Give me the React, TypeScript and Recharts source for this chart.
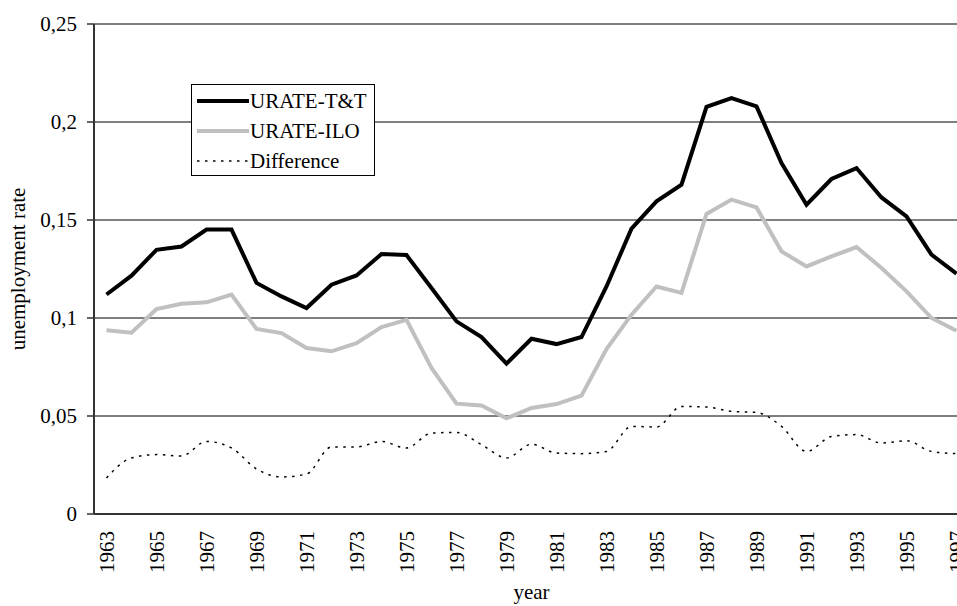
import { LineChart, Line, XAxis, YAxis, CartesianGrid, Legend } from "recharts";

const FONT = '"Liberation Serif", "Times New Roman", serif';

const YEARS = [
  1963, 1964, 1965, 1966, 1967, 1968, 1969, 1970, 1971, 1972, 1973, 1974,
  1975, 1976, 1977, 1978, 1979, 1980, 1981, 1982, 1983, 1984, 1985, 1986,
  1987, 1988, 1989, 1990, 1991, 1992, 1993, 1994, 1995, 1996, 1997,
];

const URATE_TT = [
  0.112, 0.1216, 0.1348, 0.1365, 0.1451, 0.1451, 0.1179, 0.111, 0.1051, 0.117,
  0.1217, 0.1326, 0.1321, 0.1153, 0.0983, 0.0903, 0.0767, 0.0894, 0.0867,
  0.0903, 0.1161, 0.1456, 0.1595, 0.168, 0.2077, 0.2122, 0.208, 0.1791, 0.1578,
  0.1709, 0.1765, 0.1615, 0.1518, 0.1323, 0.1226,
];

const URATE_ILO = [
  0.0937, 0.0925, 0.1046, 0.1073, 0.108, 0.1119, 0.0944, 0.0923, 0.0847, 0.083,
  0.0872, 0.0954, 0.0991, 0.0745, 0.0563, 0.0554, 0.0488, 0.0541, 0.0561,
  0.0604, 0.0842, 0.1017, 0.1161, 0.1128, 0.1531, 0.1604, 0.1564, 0.134, 0.1263,
  0.1314, 0.1362, 0.1255, 0.1136, 0.1, 0.0935,
];

const DIFFERENCE = [
  0.0184, 0.0286, 0.0303, 0.0296, 0.037, 0.0337, 0.023, 0.0189, 0.0204, 0.0342,
  0.0342, 0.037, 0.0337, 0.0413, 0.0416, 0.0354, 0.0286, 0.0356, 0.0311,
  0.0308, 0.0319, 0.0447, 0.0444, 0.0549, 0.0546, 0.0524, 0.0518, 0.0447,
  0.0319, 0.0396, 0.0405, 0.0362, 0.0374, 0.0319, 0.0308,
];

const Y_TICKS = [0, 0.05, 0.1, 0.15, 0.2, 0.25];
const YEAR_LABELS = YEARS.filter((y) => y % 2 === 1);
// tick marks sit between the years, like a category axis
const BOUNDARIES = [...YEARS.map((y) => y - 0.5), YEARS[YEARS.length - 1] + 0.5];
const DOMAIN = [BOUNDARIES[0], BOUNDARIES[BOUNDARIES.length - 1]];

const SERIES = [
  { key: "tt", name: "URATE-T&T", color: "#000", width: 4, dash: undefined, type: "linear" },
  { key: "ilo", name: "URATE-ILO", color: "#c0c0c0", width: 4, dash: undefined, type: "linear" },
  { key: "diff", name: "Difference", color: "#000", width: 1.5, dash: "2.5 5.5", type: "monotone" },
] as const;

const data = YEARS.map((year, i) => ({
  year,
  tt: URATE_TT[i],
  ilo: URATE_ILO[i],
  diff: DIFFERENCE[i],
}));

function YearTick({ x, y, payload }: any) {
  return (
    <text
      transform={`translate(${x + 7},${y + 17}) rotate(-90)`}
      textAnchor="end"
      fontFamily={FONT}
      fontSize={21}
      fill="#000"
    >
      {payload.value}
    </text>
  );
}

function LegendBox() {
  return (
    <div
      style={{
        boxSizing: "border-box",
        width: 184,
        height: 92,
        border: "1px solid #000",
        background: "#fff",
        paddingTop: 1,
        paddingLeft: 5,
        fontFamily: FONT,
        fontSize: 21,
        color: "#000",
      }}
    >
      {SERIES.map((s) => (
        <div key={s.key} style={{ display: "flex", alignItems: "center", height: 30 }}>
          <svg width={53} height={30} style={{ flex: "none" }}>
            <line
              x1={0}
              x2={52}
              y1={15}
              y2={15}
              stroke={s.color}
              strokeWidth={s.width}
              strokeDasharray={s.dash}
            />
          </svg>
          <span style={{ lineHeight: "30px" }}>{s.name}</span>
        </div>
      ))}
    </div>
  );
}

export default function App() {
  return (
    <div
      style={{
        position: "fixed",
        left: 0,
        top: 0,
        width: 957,
        height: 606,
        overflow: "hidden",
        background: "#fff",
      }}
    >
      <LineChart
        width={980}
        height={606}
        data={data}
        margin={{ top: 24, right: 11, bottom: 0, left: 0 }}
      >
        <CartesianGrid vertical={false} stroke="#000" strokeWidth={1} />
        <XAxis
          xAxisId="b"
          dataKey="year"
          type="number"
          domain={DOMAIN}
          ticks={BOUNDARIES}
          height={0}
          axisLine={false}
          tickSize={7}
          tickLine={{ stroke: "#333", strokeWidth: 1.5 }}
          tick={() => <g />}
        />
        <XAxis
          dataKey="year"
          type="number"
          domain={DOMAIN}
          ticks={YEAR_LABELS}
          interval={0}
          height={92}
          tickSize={0}
          tickMargin={0}
          tickLine={false}
          axisLine={{ stroke: "#333", strokeWidth: 2 }}
          tick={<YearTick />}
          label={({ viewBox }: any) => (
            <text
              x={viewBox.x + viewBox.width / 2}
              y={viewBox.y + 85}
              textAnchor="middle"
              fontFamily={FONT}
              fontSize={21}
              fill="#000"
            >
              year
            </text>
          )}
        />
        <YAxis
          domain={[0, 0.25]}
          ticks={Y_TICKS}
          width={94}
          tickSize={7}
          tickMargin={10}
          axisLine={{ stroke: "#333", strokeWidth: 2 }}
          tickLine={{ stroke: "#333", strokeWidth: 1.5 }}
          tick={{ fill: "#000", fontSize: 21, fontFamily: FONT }}
          tickFormatter={(v: number) => String(v).replace(".", ",")}
          label={({ viewBox }: any) => {
            const cy = viewBox.y + viewBox.height / 2;
            return (
              <text
                x={25}
                y={cy}
                transform={`rotate(-90, 25, ${cy})`}
                textAnchor="middle"
                fontFamily={FONT}
                fontSize={21}
                fill="#000"
              >
                unemployment rate
              </text>
            );
          }}
        />
        {SERIES.map((s) => (
          <Line
            key={s.key}
            dataKey={s.key}
            name={s.name}
            type={s.type}
            stroke={s.color}
            strokeWidth={s.width}
            strokeDasharray={s.dash}
            strokeLinejoin="miter"
            dot={false}
            activeDot={false}
            isAnimationActive={false}
          />
        ))}
        <Legend
          layout="vertical"
          align="center"
          verticalAlign="middle"
          wrapperStyle={{ left: 191, top: 84, width: 184, height: 92 }}
          content={() => <LegendBox />}
        />
      </LineChart>
    </div>
  );
}
